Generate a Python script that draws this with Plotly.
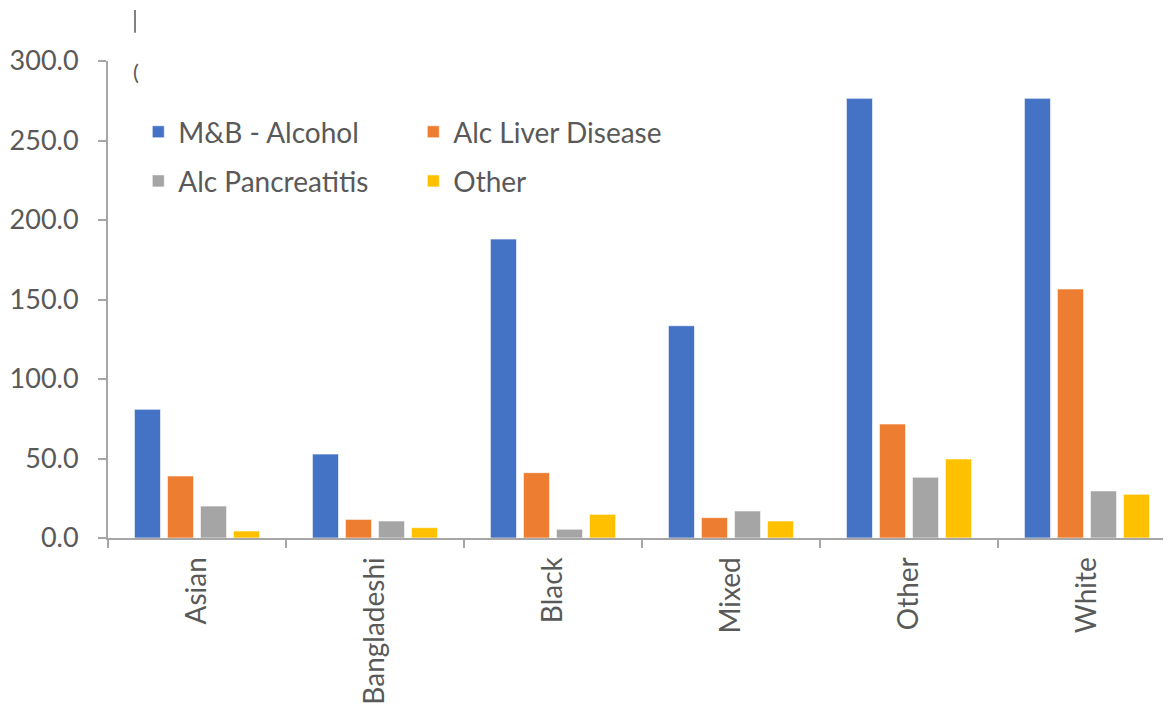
import plotly.graph_objects as go

categories = ["Asian", "Bangladeshi", "Black", "Mixed", "Other", "White"]
mb_alcohol = [80.9, 52.8, 188.0, 133.5, 276.5, 276.5]
alc_liver = [39.0, 11.7, 41.1, 12.8, 71.7, 156.6]
alc_pancreatitis = [20.1, 10.7, 5.5, 17.0, 38.2, 29.6]
other = [4.4, 6.5, 14.9, 10.7, 49.7, 27.5]

series_names = ["M&B - Alcohol", "Alc Liver Disease", "Alc Pancreatitis", "Other"]
series_values = [mb_alcohol, alc_liver, alc_pancreatitis, other]
series_colors = ["#4472C4", "#ED7D31", "#A5A5A5", "#FFC000"]
series_legends = ["legend", "legend", "legend2", "legend2"]
y_ticks = [0, 50, 100, 150, 200, 250, 300]

FONT = "Lato"
TXT = "#595959"
AX = "#A6A6A6"

fig = go.Figure()
for name, vals, col, lg in zip(series_names, series_values, series_colors, series_legends):
    fig.add_trace(go.Bar(
        x=categories, y=vals, name=name, legend=lg,
        marker=dict(color=col, line=dict(color="rgba(255,255,255,0.6)", width=1)),
    ))

legend_common = dict(
    orientation="h", xanchor="left", yanchor="middle",
    font=dict(family=FONT, size=28, color=TXT),
    entrywidth=230, entrywidthmode="pixels",
    bgcolor="rgba(0,0,0,0)", itemclick=False, itemdoubleclick=False,
)

fig.update_layout(
    width=1171, height=706,
    margin=dict(l=100, r=8, t=53, b=176, autoexpand=False),
    paper_bgcolor="white", plot_bgcolor="white",
    barmode="group", bargap=0.258, bargroupgap=0.21,
    font=dict(family=FONT, size=24, color=TXT),
    legend=dict(x=0.0285, y=0.851, **legend_common),
    legend2=dict(x=0.0285, y=0.748, **legend_common),
    showlegend=True,
    xaxis=dict(
        type="category", range=[-0.5, 5.472], tickson="boundaries",
        showline=True, linecolor=AX, linewidth=2,
        ticks="outside", ticklen=8, tickcolor=AX, tickwidth=2,
        tickangle=-90, showgrid=False, zeroline=False, automargin=False,
        tickfont=dict(family=FONT, size=28, color=TXT),
        ticklabelstandoff=6,
    ),
    yaxis=dict(
        range=[0, 300], tickvals=y_ticks, tickformat=".1f",
        showline=True, linecolor=AX, linewidth=2,
        ticks="outside", ticklen=8, tickcolor=AX, tickwidth=2,
        showgrid=False, zeroline=False, automargin=False,
        tickfont=dict(family=FONT, size=27, color=TXT),
        ticklabelstandoff=14,
    ),
)

# clipped title remnants at the top left
fig.add_shape(type="line", xref="paper", yref="paper",
              x0=0.0254, x1=0.0254, y0=1.059, y1=1.107,
              line=dict(color=TXT, width=1.5))
fig.add_annotation(text="(", xref="paper", yref="paper", x=0.0218, y=0.977,
                   xanchor="left", yanchor="middle", showarrow=False,
                   font=dict(family=FONT, size=22, color=TXT))

fig.write_html("out.html")
